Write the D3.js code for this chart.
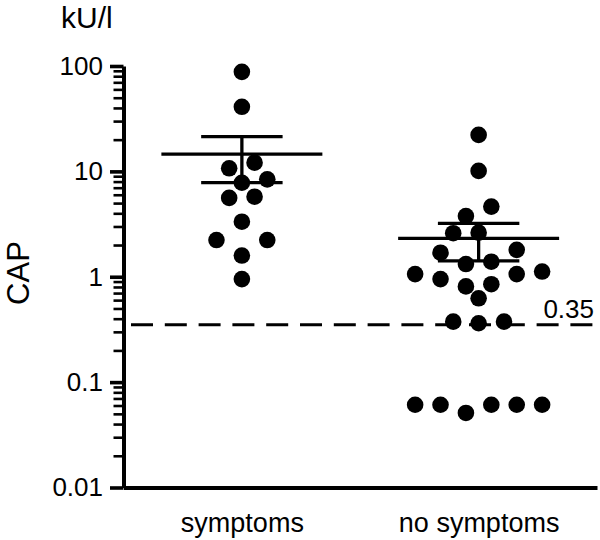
<!DOCTYPE html>
<html><head><meta charset="utf-8">
<script src="https://cdn.jsdelivr.net/npm/d3@7"></script>
<style>
body{margin:0;background:#fff;}
svg text{font-family:"Liberation Sans", Arial, Helvetica, sans-serif;fill:#000;}
</style></head>
<body><svg id="chart" width="600" height="540"></svg>
<script>
// ---- data ----
const categories = ["symptoms", "no symptoms"];
const symptomsValues = [88, 41, 12.1, 10.7, 8.4, 7.8, 5.75, 5.6, 3.33, 2.23, 2.23, 1.59, 0.95];
const noSymptomsValues = [22.2, 10.1, 4.63, 3.77, 2.62, 2.59, 1.80, 1.69, 1.39, 1.32, 1.12, 1.06, 1.06,
  0.95, 0.85, 0.81, 0.625, 0.375, 0.375, 0.362, 0.061, 0.061, 0.061, 0.061, 0.061, 0.051];
const yTickValues = [0.01, 0.1, 1, 10, 100];
const yTickLabels = ["0.01", "0.1", "1", "10", "100"];
const cutoffValue = 0.35;
const cutoffLabel = "0.35";
const yAxisTitle = "CAP";
const unitLabel = "kU/l";

// ---- layout ----
const svg = d3.select("#chart");
const mLeft = 123.5, mRight = 597, mTop = 66, mBottom = 487.5;
const dotR = 8.3;

const y = d3.scaleLog().domain([0.01, 100]).range([mBottom, mTop]);
const x = d3.scalePoint().domain(categories).range([mLeft, mRight]).padding(0.5);
const step = x.step();
const slot = d3.scaleLinear().domain([0, 1]).range([0, dotR * 1.53]);

// minor ticks
const minorTicks = [];
for (let e = -2; e < 2; e++) for (let m = 2; m <= 9; m++) minorTicks.push(m * Math.pow(10, e));

const gMinor = svg.append("g").attr("transform", `translate(${mLeft},0)`)
  .call(d3.axisLeft(y).tickValues(minorTicks).tickSize(10).tickFormat(""));
gMinor.select(".domain").remove();
gMinor.selectAll(".tick line").attr("stroke", "#000").attr("stroke-width", 2.6);

const gY = svg.append("g").attr("transform", `translate(${mLeft},0)`)
  .call(d3.axisLeft(y).tickValues(yTickValues).tickFormat((d, i) => yTickLabels[i])
    .tickSize(13.5).tickSizeOuter(0).tickPadding(7));
gY.select(".domain").attr("stroke", "#000").attr("stroke-width", 4);
gY.selectAll(".tick line").attr("stroke", "#000").attr("stroke-width", 3.6);
gY.selectAll(".tick text").attr("font-size", 26).attr("fill", "#000");

const gX = svg.append("g").attr("transform", `translate(0,${mBottom})`)
  .call(d3.axisBottom(x).tickSize(0).tickSizeOuter(0));
gX.select(".domain").attr("stroke", "#000").attr("stroke-width", 4);
gX.selectAll(".tick text").attr("font-size", 27).attr("fill", "#000").attr("y", 44).attr("dy", 0);

// cutoff line
svg.append("line")
  .attr("x1", mLeft + 7.5).attr("x2", mRight)
  .attr("y1", y(cutoffValue)).attr("y2", y(cutoffValue))
  .attr("stroke", "#000").attr("stroke-width", 3).attr("stroke-dasharray", "22,11.8");
svg.append("text").attr("x", mRight - 3).attr("y", y(cutoffValue) - 6.5)
  .attr("text-anchor", "end").attr("font-size", 26).text(cutoffLabel);

// row-based symmetric dot-plot layout, computed from the values
function swarm(values, cx) {
  const D = dotR * 2 + 0.6, rowH = dotR * 1.9;
  const pts = values.map(v => ({ v, y: y(v) })).sort((a, b) => a.y - b.y);
  const rows = [];
  pts.forEach(p => {
    const r = rows[rows.length - 1];
    if (r && p.y - r[0].y < rowH) r.push(p); else rows.push([p]);
  });
  const placed = [];
  const ok = (px, py) => placed.every(q => (q.x - px) ** 2 + (q.y - py) ** 2 >= D * D);
  rows.forEach(row => {
    const n = row.length;
    const base = d3.range(n).map(i => (i - (n - 1) / 2) * 2);
    // slot order: outermost first, alternating right / left
    const slotOrder = [];
    let lo = 0, hi = n - 1;
    while (lo <= hi) { slotOrder.push(hi--); if (lo <= hi) slotOrder.push(lo++); }
    let chosen = null;
    outer:
    for (let extra = 0; extra < 8; extra++) {
      for (const shift of [0, -1, 1, -2, 2]) {
        const offs = base.map(b => b + Math.sign(b) * 2 * extra + shift);
        const trial = row.map((p, j) => ({ ...p, x: cx + slot(offs[slotOrder[j]]) }));
        if (trial.every(t => ok(t.x, t.y))) { chosen = trial; break outer; }
      }
    }
    if (!chosen) chosen = row.map((p, j) => ({ ...p, x: cx + slot(base[slotOrder[j]]) }));
    placed.push(...chosen);
  });
  return placed;
}

const groups = [symptomsValues, noSymptomsValues];
groups.forEach((vals, gi) => {
  const cx = x(categories[gi]);
  const pts = swarm(vals, cx);
  svg.append("g").selectAll("circle").data(pts).join("circle")
    .attr("cx", d => d.x).attr("cy", d => d.y).attr("r", dotR).attr("fill", "#000");

  const mean = d3.mean(vals);
  const sem = d3.deviation(vals) / Math.sqrt(vals.length);
  const g = svg.append("g").attr("stroke", "#000").attr("stroke-width", 3.3);
  g.append("line").attr("x1", cx - step * 0.34).attr("x2", cx + step * 0.34)
    .attr("y1", y(mean)).attr("y2", y(mean));
  g.append("line").attr("x1", cx).attr("x2", cx)
    .attr("y1", y(mean + sem)).attr("y2", y(mean - sem));
  [mean + sem, mean - sem].forEach(v => {
    g.append("line").attr("x1", cx - step * 0.172).attr("x2", cx + step * 0.172)
      .attr("y1", y(v)).attr("y2", y(v));
  });
});

// titles
svg.append("text").attr("x", 61).attr("y", 27.5).attr("font-size", 30).text(unitLabel);
svg.append("text").attr("transform", "translate(29,273) rotate(-90)")
  .attr("text-anchor", "middle").attr("font-size", 31).text(yAxisTitle);
</script>
</body></html>
